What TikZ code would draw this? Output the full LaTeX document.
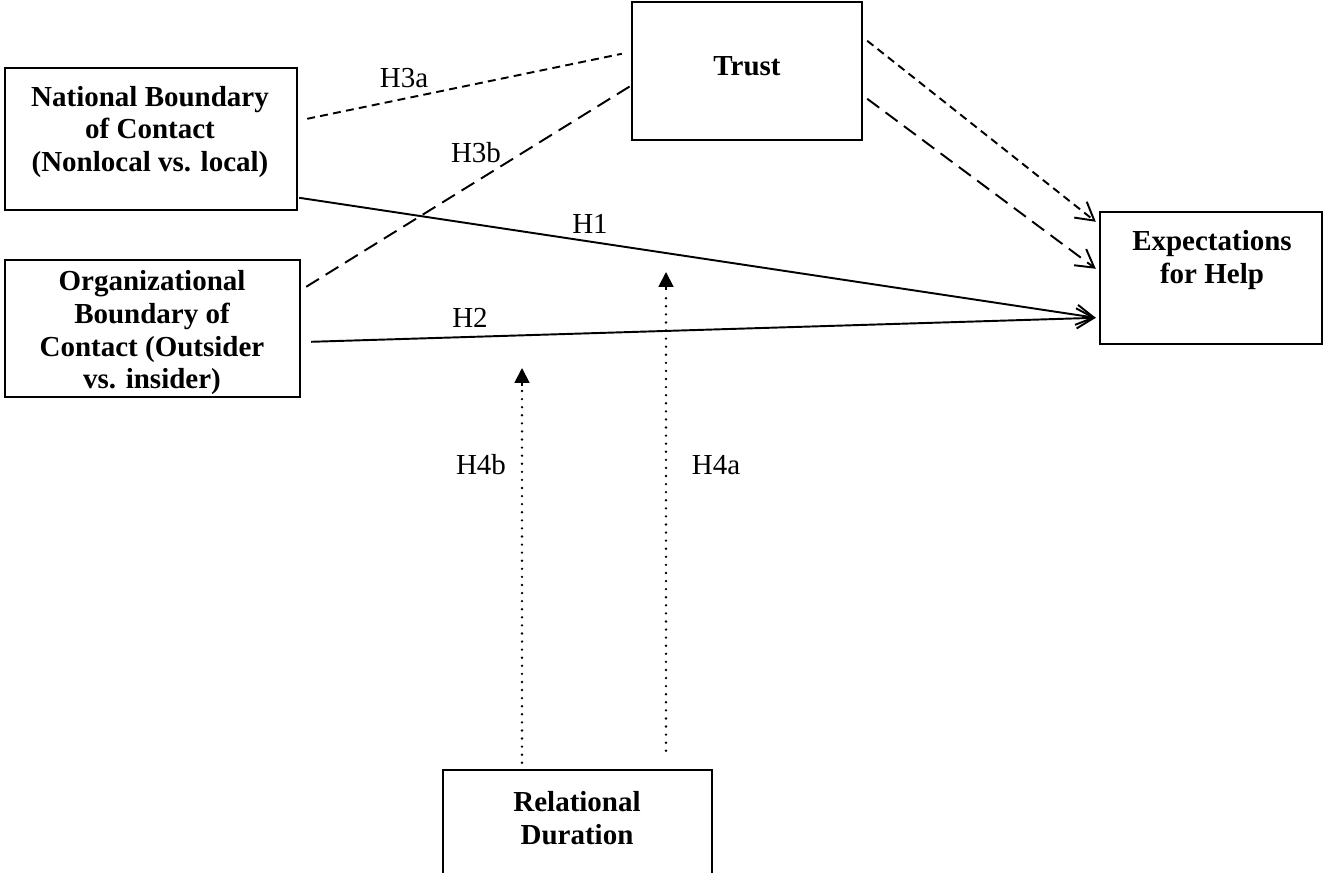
\documentclass[tikz,border=0pt]{standalone}
\usepackage{fontspec}
\setmainfont{Liberation Serif}
\usetikzlibrary{arrows.meta,calc}
\tikzset{
  box/.style={draw, line width=1.4pt, rectangle, inner sep=0pt},
  boxtext/.style={font=\fontsize{16.5}{18.6}\selectfont\bfseries, align=center, inner sep=0pt},
  lab/.style={font=\fontsize{16.5}{18}\selectfont, inner sep=0pt},
  conn/.style={line width=1.1pt},
  shortdash/.style={conn, dash pattern=on 4.5pt off 3pt},
  longdash/.style={conn, dash pattern=on 8.5pt off 4.5pt},
  dotline/.style={line width=1.5pt, line cap=round, dash pattern=on 0pt off 4.6pt},
  openarrow/.style={-{Straight Barb[length=10pt,width=11.5pt,line width=1.1pt]}},
  fillarrow/.style={-{Triangle[length=8.5pt,width=8.5pt]}}
}
\begin{document}
\begin{tikzpicture}[x=0.02cm,y=-0.02cm]
\useasboundingbox (0,0) rectangle (1324,872);
\clip (0,0) rectangle (1324,872);
% boxes
\node[box, minimum width=5.84cm, minimum height=2.84cm] (natl) at (151,139) {};
\node[box, minimum width=5.9cm, minimum height=2.74cm] (org) at (152.5,328.5) {};
\node[box, minimum width=4.6cm, minimum height=2.76cm] (trust) at (747,71) {};
\node[box, minimum width=4.44cm, minimum height=2.64cm] (exp) at (1211,278) {};
\node[box, minimum width=5.38cm, minimum height=2.6cm] (rel) at (577.5,835) {};
% box texts
\node[boxtext] (natlT) at (150,132) {National Boundary\\of Contact\\(Nonlocal vs. local)};
\node[boxtext] (orgT) at (152,333) {Organizational\\Boundary of\\Contact (Outsider\\vs. insider)};
\node[boxtext, anchor=base] (trustT) at (747,75) {Trust};
\node[boxtext] (expT) at (1212,260) {Expectations\\for Help};
\node[boxtext] (relT) at (577,818) {Relational\\Duration};
% connectors
\draw[shortdash] ($(natl.north east)+(9,52)$) -- ($(trust.north west)+(-9,53)$);
\draw[longdash] ($(org.north east)+(5,28)$) -- ($(trust.north west)+(0,85)$);
\draw[conn, openarrow] ($(natl.north east)+(1,131)$) -- ($(exp.north west)+(-3,107)$);
\draw[conn, openarrow] ($(org.north east)+(10,83)$) -- ($(exp.north west)+(-3,107)$);
\draw[shortdash, openarrow] ($(trust.north east)+(4,40)$) -- ($(exp.north west)+(-3,11)$);
\draw[longdash, openarrow] ($(trust.north east)+(4,98)$) -- ($(exp.north west)+(-3,58)$);
\coordinate (h4atip) at (666,272);
\coordinate (h4btip) at (522,368);
\draw[dotline] (rel.north west -| h4atip) ++(0,-18) -- (666,292);
\draw[fillarrow, conn] (666,290) -- (h4atip);
\draw[dotline] (rel.north west -| h4btip) ++(0,-6) -- (522,388);
\draw[fillarrow, conn] (522,386) -- (h4btip);
% labels
\node[lab] (l3a) at (404,78) {H3a};
\node[lab] (l3b) at (476,153) {H3b};
\node[lab] (l1) at (590,224) {H1};
\node[lab] (l2) at (470,318) {H2};
\node[lab] (l4b) at (481,465) {H4b};
\node[lab] (l4a) at (716,465) {H4a};
\end{tikzpicture}
\end{document}
